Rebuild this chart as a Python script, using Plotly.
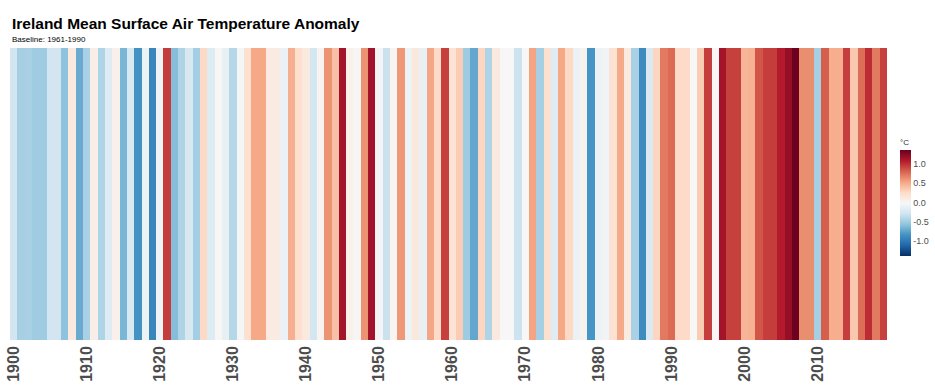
import plotly.graph_objects as go

years = list(range(1900, 2020))
anomaly = [
    -0.27, -0.46, -0.45, -0.49, -0.49, -0.27, -0.27, -0.56, 0.14, -0.69,
    -0.45, 0.09, -0.42, -0.18, 0.07, -0.63, -0.22, -0.83, -0.07, -0.90,
    -0.05, 0.96, -0.59, -0.42, -0.23, -0.47, 0.28, -0.19, 0.01, -0.10,
    -0.39, -0.03, 0.22, 0.53, 0.53, 0.12, 0.12, -0.09, 0.49, 0.23,
    0.14, -0.25, 0.04, 0.62, 0.41, 1.15, 0.07, 0.02, 0.62, 1.15,
    -0.03, -0.30, 0.03, 0.60, -0.07, 0.15, -0.10, 0.54, 0.27, 0.94,
    0.19, 0.35, -0.50, -0.71, 0.30, -0.42, 0.14, 0.00, 0.00, -0.29,
    0.00, 0.55, -0.46, 0.22, -0.17, 0.53, 0.28, -0.09, 0.05, -0.81,
    -0.07, -0.05, 0.21, 0.52, 0.13, -0.45, -0.87, -0.21, 0.30, 0.72,
    0.78, 0.27, 0.27, 0.00, 0.35, 0.95, 0.01, 1.15, 0.94, 0.94,
    0.47, 0.48, 0.86, 0.95, 0.96, 1.09, 1.20, 1.35, 0.64, 0.64,
    -0.46, 0.83, 0.50, 0.50, 0.95, 0.37, 0.77, 1.02, 0.72, 0.94,
]
tick_years = list(range(1900, 2020, 10))
cb_ticks = [-1.0, -0.5, 0.0, 0.5, 1.0]
limit = 1.37

rdbu = ["#053061", "#2166ac", "#4393c3", "#92c5de", "#d1e5f0", "#f7f7f7",
        "#fddbc7", "#f4a582", "#d6604d", "#b2182b", "#67001f"]
colorscale = [[i / 10, c] for i, c in enumerate(rdbu)]

W, H = 935, 391
ml, mt = 10, 48
pw, ph = 877, 292
mr, mb = W - ml - pw, H - mt - ph

fig = go.Figure(go.Heatmap(
    x=years, y=[0], z=[anomaly],
    colorscale=colorscale, zmin=-limit, zmax=limit,
    colorbar=dict(
        title=dict(text="°C", side="top", font=dict(size=8, color="#333333", family="Liberation Sans")),
        thickness=11, thicknessmode="pixels",
        len=120, lenmode="pixels",
        x=(900 - ml) / pw, xanchor="left",
        y=(mt + ph - 195.5) / ph, yanchor="middle",
        tickvals=cb_ticks, ticktext=["-1.0", "-0.5", "0.0", "0.5", "1.0"],
        ticks="", ticklabelposition="outside",
        tickfont=dict(size=9, color="#4d4d4d", family="Liberation Sans"),
        outlinewidth=0, xpad=0, ypad=0,
    ),
    hovertemplate="%{x}: %{z:.2f}°C<extra></extra>",
))

fig.update_layout(
    width=W, height=H,
    margin=dict(l=ml, r=mr, t=mt, b=mb, autoexpand=False),
    paper_bgcolor="white", plot_bgcolor="white",
    xaxis=dict(
        range=[1899.5, 2019.5], tickvals=tick_years,
        ticktext=[str(y) for y in tick_years],
        tickangle=-90, showgrid=False, zeroline=False, ticks="",
        ticklabelstandoff=2, automargin=False, ticklabeloverflow="allow",
        tickfont=dict(size=16, color="#4d4d4d", family="Liberation Sans", weight="bold"),
        showline=False,
    ),
    yaxis=dict(visible=False, range=[-0.5, 0.5], automargin=False),
    annotations=[
        dict(text="<b>Ireland Mean Surface Air Temperature Anomaly</b>",
             xref="paper", yref="paper", x=0, y=(mt + ph - 24) / ph,
             xanchor="left", yanchor="middle", showarrow=False,
             font=dict(size=15.5, color="black", family="Liberation Sans")),
        dict(text="Baseline: 1961-1990",
             xref="paper", yref="paper", x=0, y=(mt + ph - 39.5) / ph,
             xanchor="left", yanchor="middle", showarrow=False,
             font=dict(size=8, color="black", family="Liberation Sans")),
    ],
)

fig.write_html("out.html", config={"displayModeBar": False},
               post_script="document.body.style.margin='0';")
